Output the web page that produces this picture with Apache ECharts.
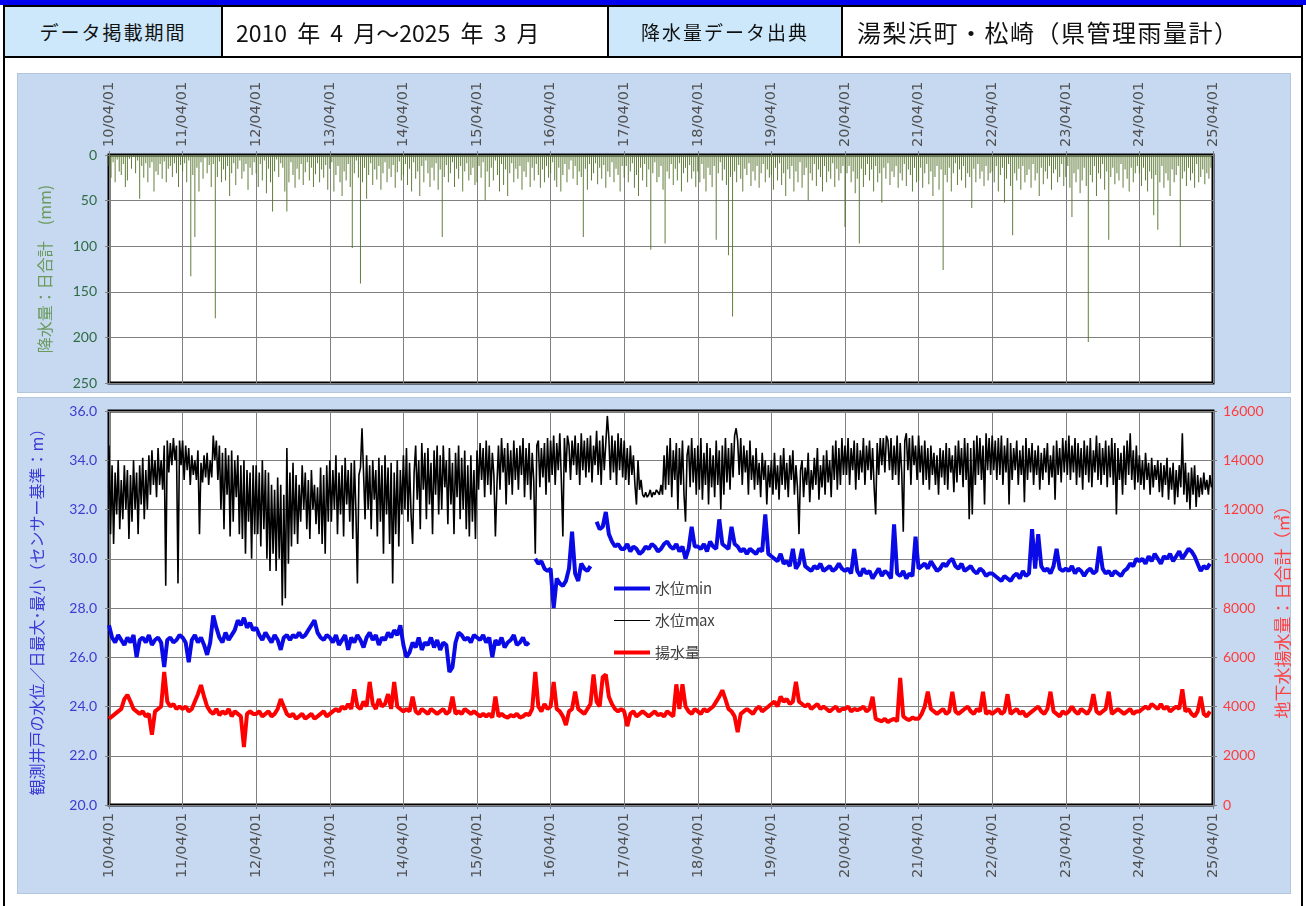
<!DOCTYPE html>
<html><head><meta charset="utf-8">
<script src="https://cdn.jsdelivr.net/npm/echarts@6/dist/echarts.min.js"></script>
<style>
html,body{margin:0;padding:0;background:#fff;width:1306px;height:906px;overflow:hidden;}
.abs{position:absolute;}
#topbar{left:0;top:0;width:1306px;height:5px;background:#0000f0;z-index:3;}
#frame{left:3px;top:5px;width:1296px;height:920px;border:2px solid #000;z-index:3;pointer-events:none;}
.cell{top:7px;height:49px;display:flex;align-items:center;font-family:"Noto Sans CJK JP","Noto Sans",sans-serif;color:#111;z-index:2;box-sizing:border-box;}
.lb{background:#cce8fa;justify-content:center;font-size:19px;letter-spacing:2px;}
.wt{background:#fff;}
.vl{top:7px;width:2px;height:49px;background:#000;z-index:3;}
#hl{left:3px;top:56px;width:1300px;height:2px;background:#000;z-index:3;}
.panel{left:17px;width:1274px;background:#c6d9f0;z-index:0;box-sizing:border-box;border:1px solid #b4c6de;}
#chart{left:0;top:0;width:1306px;height:906px;z-index:1;}
</style>
</head><body>
<div id="topbar" class="abs"></div>
<div class="abs panel" style="top:73px;height:320px;"></div>
<div class="abs panel" style="top:397px;height:497px;"></div>
<div id="chart" class="abs"></div>
<div class="abs cell lb" style="left:5px;width:216px;">データ掲載期間</div>
<div class="abs vl" style="left:221px;"></div>
<div class="abs cell wt" style="left:223px;width:384px;padding-left:13px;font-size:23px;word-spacing:5px;">2010 年 4 月～2025 年 3 月</div>
<div class="abs vl" style="left:607px;"></div>
<div class="abs cell lb" style="left:609px;width:232px;">降水量データ出典</div>
<div class="abs vl" style="left:841px;"></div>
<div class="abs cell wt" style="left:843px;width:458px;padding-left:14px;font-size:24px;letter-spacing:1.5px;">湯梨浜町・松崎（県管理雨量計）</div>
<div id="hl" class="abs"></div>
<div id="frame" class="abs"></div>
<script>
// x axis: years since 2010/04/01; tick labels
const yearTicks = ['10/04/01','11/04/01','12/04/01','13/04/01','14/04/01','15/04/01','16/04/01','17/04/01','18/04/01','19/04/01','20/04/01','21/04/01','22/04/01','23/04/01','24/04/01','25/04/01'];

// 降水量：日合計 (mm) — 36 readings per year (Apr -> Mar), one row per year
const rainPerYear = 36;
const rainMm = [
 [12,25,8,30,5,18,22,10,35,28,4,15,2,20,6,48,12,25,9,30,14,8,40,18,22,10,26,7,30,15,12,24,9,20,35,11],
 [18,9,30,6,133,22,90,14,40,8,26,3,20,11,35,10,179,24,7,30,16,28,12,45,20,9,33,15,6,26,18,10,38,14,22,8],
 [20,35,10,28,6,42,15,30,62,18,5,24,9,14,40,62,30,8,22,36,15,27,10,33,19,8,28,14,35,21,9,30,16,25,11,38],
 [15,8,40,22,12,30,45,18,28,10,35,102,20,6,25,141,30,14,48,22,9,33,16,27,12,38,20,8,30,15,24,11,36,19,7,28],
 [22,10,33,15,40,8,26,18,45,12,30,6,20,35,14,28,9,38,16,90,24,11,30,20,8,35,15,26,12,40,18,9,28,22,14,33],
 [30,12,25,8,50,18,35,14,28,6,22,40,10,33,16,45,20,9,30,15,26,12,38,18,24,8,35,14,28,10,22,36,16,30,12,25],
 [20,8,28,35,14,40,22,10,30,16,6,26,12,33,18,24,90,15,38,10,28,20,9,32,14,26,11,36,18,24,8,30,15,22,40,12],
 [25,12,30,18,9,36,22,45,14,28,10,35,16,104,20,8,30,24,12,38,97,18,26,10,33,15,28,9,40,20,14,30,11,26,18,35],
 [18,30,10,26,40,14,22,35,12,93,20,8,28,16,33,110,24,177,18,30,11,26,40,15,22,9,34,18,28,12,36,20,10,30,16,25],
 [22,38,14,28,9,33,20,45,16,26,12,40,18,30,8,36,22,14,50,20,28,10,34,16,24,40,12,30,18,26,9,35,15,28,20,12],
 [79,20,12,30,18,42,26,97,15,35,22,10,28,16,40,12,30,20,52,14,26,9,33,18,24,12,36,20,28,10,34,16,22,40,14,30],
 [28,14,36,20,10,32,18,45,24,12,38,16,126,22,30,14,40,20,9,33,16,28,12,36,20,24,58,15,30,10,26,18,34,12,28,20],
 [18,30,12,40,22,14,52,26,10,34,88,20,28,15,38,12,30,22,16,36,10,28,20,45,14,32,18,26,12,38,20,16,30,24,10,34],
 [24,12,36,68,20,30,16,42,28,14,34,205,22,30,12,45,20,26,10,38,18,93,24,14,32,20,28,10,36,16,26,40,14,30,20,12],
 [20,34,14,28,40,18,26,66,22,82,30,12,36,20,28,45,16,30,22,12,101,26,18,34,14,28,20,36,10,30,24,16,32,20,26,14]
];

// 水位max (m) — 48 readings per year
const maxPerYear = 48;
const levelMax = [
 [34.6,31.0,33.8,30.6,33.5,31.8,34.0,31.2, 33.2,31.6,33.8,32.0,33.6,30.8,33.4,31.5, 34.0,32.0,33.5,31.0,33.8,32.2,34.1,31.6, 33.6,32.0,34.2,32.6,34.4,33.0,34.0,32.5, 34.5,33.0,34.0,32.8,34.6,28.9,34.8,33.5, 34.7,33.8,34.9,34.0,34.6,29.0,34.8,33.8],
 [34.8,33.2,34.6,33.6,34.5,33.0,34.2,33.4, 34.0,33.2,34.4,31.0,33.9,33.1,34.2,33.3, 34.3,33.0,34.0,33.3,35.0,34.0,34.8,33.2, 34.6,32.0,34.3,31.2,34.5,32.6,34.2,30.9, 34.4,31.5,34.0,32.5,34.2,31.0,33.8,30.8, 34.0,30.2,33.6,31.5,33.5,30.0,33.8,31.0],
 [33.8,31.0,33.5,30.5,34.0,31.2,33.6,30.0, 33.5,29.5,33.0,30.2,32.8,29.5,33.3,30.0, 33.0,28.1,32.6,28.4,34.5,29.8,33.5,30.5, 33.9,31.0,33.4,30.6,33.0,31.5,33.8,32.0, 33.5,31.2,33.2,30.8,33.6,32.0,33.0,31.4, 32.9,31.0,33.7,30.6,33.4,30.2,33.8,31.5],
 [34.0,31.5,33.6,32.0,34.2,31.0,33.5,31.8, 33.8,30.9,34.1,32.2,33.6,31.5,33.9,30.8, 34.0,32.0,29.0,33.4,33.7,35.3,33.5,31.6, 34.2,32.0,33.8,31.2,34.0,32.4,33.6,30.9, 34.1,31.5,33.8,30.2,34.2,31.8,33.7,30.6, 33.9,29.0,33.5,31.0,34.0,30.5,33.6,31.8],
 [34.2,32.0,34.5,31.5,33.9,31.8,30.6,33.5, 34.6,32.4,34.0,31.2,34.7,32.8,34.3,31.6, 34.5,32.2,33.9,31.0,34.4,32.6,34.6,31.8, 34.2,32.0,34.6,32.9,34.0,31.4,34.5,32.2, 33.9,31.0,34.3,32.5,34.6,31.6,34.1,32.0, 34.4,31.2,33.8,30.9,34.2,31.5,33.6,30.8],
 [34.4,32.8,34.7,33.2,34.5,32.5,34.8,33.0, 34.6,32.6,34.3,33.4,30.9,33.0,34.6,32.8, 34.9,33.5,34.5,32.2,34.7,33.0,34.4,32.6, 34.8,33.2,34.5,32.8,34.6,33.4,34.9,32.5, 34.5,33.0,34.7,32.4,34.3,33.2,30.2,34.6, 34.8,32.9,34.5,33.3,34.7,32.6,34.9,33.1],
 [34.8,33.4,35.0,33.0,34.7,33.6,35.1,33.2, 30.9,34.9,33.5,35.0,34.6,33.2,34.8,33.8, 35.0,33.4,34.7,33.0,35.1,33.6,34.8,33.3, 34.9,33.5,35.0,33.1,34.6,33.8,35.2,33.4, 34.8,33.0,35.0,33.6,34.7,35.8,34.9,33.2, 35.0,33.5,34.8,33.0,35.1,33.6,34.9,33.3],
 [34.8,33.2,34.5,33.0,34.6,33.4,34.2,33.0, 32.2,34.0,32.8,33.2,32.6,32.5,32.7,32.5, 32.6,32.8,32.5,32.7,32.6,32.8,32.7,32.6, 33.0,32.6,34.2,32.8,34.6,33.0,34.9,32.5, 34.4,33.2,34.7,32.0,34.5,33.0,34.8,32.6, 31.5,34.2,34.6,32.9,34.9,33.1,34.5,32.6],
 [34.6,32.8,34.9,32.4,34.3,33.0,34.7,32.2, 34.5,32.9,34.2,32.5,34.8,33.0,34.4,32.0, 34.6,32.6,34.9,33.1,34.5,32.8,34.7,33.3, 35.0,35.3,34.8,33.4,34.9,33.0,34.6,33.5, 34.4,32.6,34.8,33.2,34.2,32.8,34.5,33.0, 33.9,32.5,34.3,33.2,34.0,32.2,33.8,32.9],
 [34.0,32.6,34.3,32.8,33.8,32.4,34.2,33.0, 34.5,32.8,33.9,32.5,34.2,33.2,34.4,32.6, 33.8,32.9,31.0,33.6,34.0,32.5,33.7,33.0, 34.3,32.3,33.6,32.8,34.1,33.0,34.5,32.4, 33.8,32.9,34.2,32.6,34.4,33.1,34.0,32.5, 34.6,33.2,34.8,32.8,34.5,33.0,34.9,33.4],
 [34.6,33.4,34.9,33.0,34.5,33.6,34.8,32.8, 34.7,33.2,34.4,33.5,34.9,33.0,34.6,33.6, 34.8,33.2,34.5,32.9,31.8,34.7,33.4,34.9, 33.8,34.9,33.5,35.0,34.8,33.6,34.9,33.2, 34.6,33.4,35.0,33.0,34.7,33.5,31.1,34.8, 35.1,33.6,34.9,33.0,35.0,33.8,34.6,33.2],
 [35.0,33.5,34.6,33.0,34.8,33.2,34.5,32.8, 34.6,33.4,34.3,33.0,34.2,32.6,34.5,33.3, 34.4,33.0,34.7,32.8,34.5,33.5,34.2,32.7, 34.6,33.1,34.8,33.4,34.5,32.9,34.9,33.2, 34.7,31.6,34.5,31.8,34.8,33.0,35.0,33.4, 34.9,33.2,34.6,32.2,35.1,33.6,34.9,33.4],
 [35.0,33.6,34.8,33.2,34.9,33.4,35.0,33.0, 34.6,33.5,34.9,32.2,34.7,33.2,34.5,33.6, 34.8,33.0,34.4,33.4,34.6,32.3,34.9,33.2, 34.5,33.5,34.7,33.0,34.4,33.4,34.6,32.8, 34.3,33.2,34.5,33.5,34.7,33.0,34.2,33.3, 34.6,32.4,34.8,33.4,34.5,33.1,34.9,33.5],
 [34.8,33.4,35.0,33.2,34.6,33.5,34.9,33.0, 34.7,33.3,34.5,32.8,34.8,33.4,34.6,33.1, 34.9,32.9,34.4,33.5,35.0,33.2,34.7,33.0, 34.5,33.4,34.8,32.9,34.6,33.3,34.9,33.0, 34.7,31.8,34.5,33.2,34.3,32.6,34.6,33.0, 34.8,33.4,35.1,33.2,34.4,32.8,34.6,33.1],
 [34.2,33.0,34.0,32.8,34.3,33.2,33.9,32.6, 34.1,32.9,33.8,33.2,34.0,32.7,33.9,32.5, 33.8,33.0,34.1,32.4,33.7,32.8,33.9,32.2, 33.6,32.5,33.8,32.9,35.1,32.6,33.9,32.3, 33.5,32.0,33.7,32.6,33.8,32.1,33.4,32.5, 33.3,32.6,33.5,32.8,33.2,32.6,33.4,32.9]
];

// 水位min (m) — 24 readings per year, null = no record
const minPerYear = 24;
const levelMin = [
 [27.3,26.8,26.6,26.9,26.7,26.5,26.8,26.6,26.9,26.0,26.7,26.8,26.6,26.9,26.5,26.7,26.8,26.6,25.6,26.7,26.8,26.6,26.7,26.9],
 [26.8,26.6,25.8,26.7,26.9,26.6,26.8,26.5,26.1,26.6,27.7,27.2,26.8,26.6,27.0,26.7,26.9,27.1,27.5,27.3,27.6,27.2,27.4,27.1],
 [27.2,26.9,26.7,27.0,26.8,26.6,26.9,26.7,26.3,26.8,26.9,26.7,26.9,26.8,27.0,26.8,26.9,27.1,27.3,27.5,27.0,26.8,26.7,26.9],
 [26.8,26.6,26.9,26.5,26.7,26.9,26.3,26.8,26.6,26.9,26.7,26.4,26.8,27.0,26.7,26.9,26.5,26.8,26.7,27.0,26.8,27.1,26.9,27.3],
 [26.5,26.0,26.2,26.6,26.4,26.8,26.3,26.6,26.5,26.8,26.4,26.7,26.3,26.6,26.5,25.4,25.6,26.6,27.0,26.9,26.7,26.8,26.6,26.9],
 [26.8,26.7,26.9,26.6,26.8,26.0,26.7,26.5,26.8,26.4,26.6,26.7,26.9,26.5,26.6,26.8,26.5,26.6,null,30.0,29.8,29.9,29.6,29.5],
 [29.6,28.0,29.2,29.0,28.9,29.1,29.6,31.1,29.4,29.1,29.8,29.6,29.5,29.7,null,31.5,31.2,31.3,31.9,31.0,30.7,30.5,30.6,30.4],
 [30.4,30.6,30.3,30.5,30.4,30.2,30.3,30.5,30.4,30.6,30.5,30.3,30.4,30.6,30.7,30.5,30.4,30.6,30.3,30.5,30.0,30.4,31.3,30.5],
 [30.5,30.4,30.6,30.3,30.7,30.5,30.4,31.6,30.6,30.5,30.4,31.3,30.6,30.5,30.3,30.4,30.2,30.4,30.3,30.2,30.4,30.3,31.8,30.2],
 [30.1,30.0,29.9,30.2,29.8,29.9,29.7,30.4,29.6,29.8,30.4,29.7,29.6,29.5,29.7,29.6,29.8,29.5,29.6,29.7,29.5,29.6,29.8,29.6],
 [29.5,29.6,29.4,30.4,29.5,29.3,29.6,29.4,29.5,29.2,29.4,29.6,29.3,29.5,29.4,29.2,31.4,29.4,29.3,29.5,29.2,29.4,29.3,30.9],
 [29.6,29.7,29.8,29.6,29.9,29.7,29.5,29.6,29.8,29.7,29.9,30.0,29.7,29.6,29.8,29.5,29.6,29.7,29.5,29.4,29.6,29.5,29.3,29.4],
 [29.4,29.3,29.2,29.1,29.3,29.2,29.1,29.3,29.4,29.2,29.5,29.3,29.4,31.2,29.6,31.0,29.7,29.5,29.6,29.4,29.7,30.4,29.6,29.5],
 [29.6,29.5,29.7,29.4,29.6,29.5,29.3,29.5,29.6,29.4,29.5,30.5,29.6,29.4,29.5,29.3,29.5,29.4,29.3,29.5,29.6,29.8,29.7,30.0],
 [29.9,30.0,29.8,30.1,29.9,30.2,30.0,29.8,30.1,30.0,30.2,29.9,30.1,30.3,30.0,30.2,30.4,30.3,30.1,29.8,29.5,29.7,29.6,29.8]
];

// 揚水量 (m3/day) — 24 readings per year
const pumpPerYear = 24;
const pumping = [
 [3500,3600,3700,3800,3900,4300,4470,4200,3900,3800,3700,3800,3600,3700,2850,3800,3900,4000,5400,4200,4000,4100,3900,4000],
 [3900,4000,3800,3900,4200,4500,4870,4400,4000,3800,3700,3900,3650,3800,3700,3900,3600,3800,3700,3600,2350,3700,3800,3700],
 [3700,3800,3600,3700,3800,3600,3700,3900,4300,4000,3700,3600,3700,3500,3600,3700,3500,3600,3700,3500,3600,3700,3800,3600],
 [3700,3800,3900,3800,4000,3900,4100,3900,4700,4000,3900,4200,4000,5000,4100,3900,4300,4000,4100,4500,3900,5000,4000,3900],
 [3800,3900,3800,4400,3800,3700,3900,3800,3700,3900,3800,3700,3800,3900,3700,3800,4400,3700,3800,3700,3900,3800,3700,3800],
 [3700,3600,3700,3600,3700,3550,4400,3600,3700,3600,3550,3650,3600,3700,3550,3600,3700,3650,3900,5400,4000,3800,4100,3900],
 [4000,5000,3900,3800,3600,3250,3800,3900,4600,3900,3800,3700,3900,4100,5300,4200,4000,5200,5300,4400,4100,3900,3800,3900],
 [3800,3200,3700,3800,3600,3700,3800,3700,3600,3700,3800,3650,3700,3600,3800,3700,3600,4900,3900,4900,4000,3800,3700,3900],
 [3800,3700,3900,3800,3900,4000,4200,4400,4660,4300,3900,3800,3600,2960,3700,3800,3900,3800,3700,3900,4000,3800,3900,4000],
 [4100,4200,4000,4400,4200,4300,4100,4200,5000,4200,4100,4000,4100,3900,4000,4100,3900,4000,3900,3800,3900,4000,3800,3900],
 [3900,4000,3800,3900,3850,3900,4000,3800,3900,4400,3500,3450,3400,3500,3370,3450,3500,3400,5160,3600,3500,3450,3550,3500],
 [3500,3700,4000,4600,3900,3800,3700,3800,3900,3700,3800,4600,3800,3700,3800,3900,4000,3800,3700,3900,3800,4600,3700,3800],
 [3700,3800,3900,3700,3800,4500,3700,3800,3900,3700,3800,3600,3700,3800,3900,4000,3800,3700,3900,4600,3800,3700,3600,3800],
 [3700,3800,4000,3800,3700,3900,3800,3700,3900,4500,3800,3700,3800,3900,4600,3700,3800,3900,3800,3700,3800,3900,3700,3800],
 [3800,3900,4000,3900,4100,4000,3900,4100,3900,4000,3800,3900,4000,3900,4700,3800,3900,3700,3600,3800,4400,3700,3600,3800]
];

function toXY(rows, perYear) {
  const out = [];
  rows.forEach((row, y) => row.forEach((v, i) => out.push([y + i / perYear, v === null ? '-' : v])));
  return out;
}

const FONT_NUM = 'Lato';
const FONT_DATE = 'DejaVu Sans';
const FONT_JP = 'Noto Sans CJK JP';
const GRID_COLOR = '#808080';

function xAxisFor(gridIndex, position) {
  return {
    type: 'value', gridIndex, position, min: 0, max: 15, interval: 1,
    axisLine: { show: false },
    axisTick: { show: true, length: 4, lineStyle: { color: GRID_COLOR } },
    axisLabel: { rotate: 90, margin: 8, color: '#505050', fontSize: 14.5, fontFamily: FONT_DATE,
      formatter: v => yearTicks[Math.round(v)] },
    splitLine: { show: true, lineStyle: { color: GRID_COLOR, width: 1 } }
  };
}

const chart = echarts.init(document.getElementById('chart'), null, { width: 1306, height: 906 });
chart.setOption({
  animation: false,
  textStyle: { fontFamily: FONT_NUM },
  grid: [
    { left: 109, top: 155, width: 1104, height: 228, show: true, backgroundColor: '#fff', borderColor: '#000', borderWidth: 3 },
    { left: 109, top: 411, width: 1104, height: 394, show: true, backgroundColor: '#fff', borderColor: '#000', borderWidth: 3 }
  ],
  xAxis: [xAxisFor(0, 'top'), xAxisFor(1, 'bottom')],
  yAxis: [
    { type: 'value', gridIndex: 0, inverse: true, min: 0, max: 250, interval: 50,
      name: '降水量：日合計　(mm)', nameLocation: 'middle', nameGap: 56, nameRotate: 90,
      nameTextStyle: { color: '#6b9a5e', fontSize: 16, fontFamily: FONT_JP },
      axisLine: { show: false }, axisTick: { show: true, length: 4, lineStyle: { color: GRID_COLOR } },
      axisLabel: { color: '#2f6b45', fontSize: 14, margin: 12, fontFamily: FONT_NUM },
      splitLine: { lineStyle: { color: GRID_COLOR } } },
    { type: 'value', gridIndex: 1, min: 20, max: 36, interval: 2, position: 'left',
      name: '観測井戸の水位／日最大･最小（センサー基準：m）', nameLocation: 'middle', nameGap: 64, nameRotate: 90,
      nameTextStyle: { color: '#3a3ad6', fontSize: 16, fontFamily: FONT_JP },
      axisLine: { show: false }, axisTick: { show: true, length: 4, lineStyle: { color: GRID_COLOR } },
      axisLabel: { color: '#3b3bcf', fontSize: 14, margin: 12, fontFamily: FONT_NUM, formatter: v => v.toFixed(1) },
      splitLine: { lineStyle: { color: GRID_COLOR } } },
    { type: 'value', gridIndex: 1, min: 0, max: 16000, interval: 2000, position: 'right',
      name: '地下水揚水量：日合計（㎥）', nameLocation: 'middle', nameGap: 53, nameRotate: 90,
      nameTextStyle: { color: '#ff4040', fontSize: 17, fontFamily: FONT_JP },
      axisLine: { show: false }, axisTick: { show: true, length: 4, lineStyle: { color: GRID_COLOR } },
      axisLabel: { color: '#ff3b3b', fontSize: 14, margin: 10, fontFamily: FONT_NUM, formatter: v => String(v) },
      splitLine: { show: false } }
  ],
  legend: {
    orient: 'vertical', left: 607, top: 576, itemWidth: 36, itemHeight: 14, itemGap: 17,
    data: [
      { name: '水位min', lineStyle: { width: 4, color: '#0a0ae6' } },
      { name: '水位max', lineStyle: { width: 1, color: '#000' } },
      { name: '揚水量', lineStyle: { width: 4, color: '#ff0000' } }
    ],
    itemStyle: { opacity: 0 },
    textStyle: { color: '#404040', fontSize: 15, fontFamily: FONT_JP }
  },
  series: [
    { name: '降水量', type: 'bar', xAxisIndex: 0, yAxisIndex: 0, barWidth: 1,
      itemStyle: { color: 'rgba(80,112,38,0.9)' }, data: toXY(rainMm, rainPerYear) },
    { name: '水位max', type: 'line', xAxisIndex: 1, yAxisIndex: 1, symbol: 'none',
      lineStyle: { color: '#000', width: 1.6 }, itemStyle: { color: '#000' }, data: toXY(levelMax, maxPerYear) },
    { name: '水位min', type: 'line', xAxisIndex: 1, yAxisIndex: 1, symbol: 'none',
      lineStyle: { color: '#0a0ae6', width: 4 }, itemStyle: { color: '#0a0ae6' }, data: toXY(levelMin, minPerYear) },
    { name: '揚水量', type: 'line', xAxisIndex: 1, yAxisIndex: 2, symbol: 'none',
      lineStyle: { color: '#ff0000', width: 4 }, itemStyle: { color: '#ff0000' }, data: toXY(pumping, pumpPerYear) }
  ]
});
</script>
</body></html>
